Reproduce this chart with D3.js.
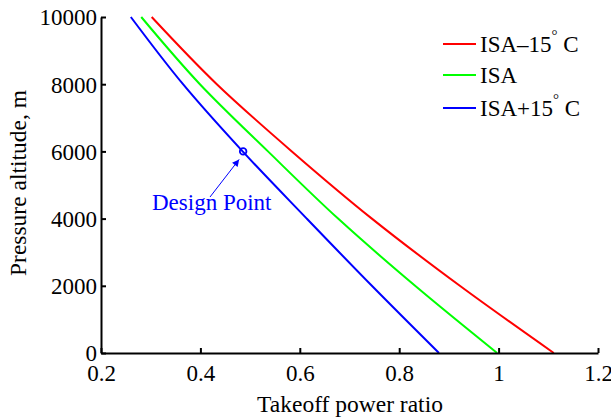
<!DOCTYPE html>
<html>
<head>
<meta charset="utf-8">
<script src="https://cdn.jsdelivr.net/npm/d3@7"></script>
<style>
  body { margin: 0; background: #fff; }
  svg text { font-family: "Liberation Serif", "DejaVu Serif", serif; }
</style>
</head>
<body>
<svg id="chart" width="611" height="419"></svg>
<script>
// Pressure altitude (m) at which each takeoff power ratio is read
const altitudes = [10000, 8000, 6000, 4000, 2000, 0];
// Takeoff power ratio for each atmosphere
const isaMinus15 = [0.302, 0.433, 0.584, 0.745, 0.922, 1.111];
const isaStd     = [0.281, 0.399, 0.536, 0.677, 0.832, 0.997];
const isaPlus15  = [0.260, 0.365, 0.485, 0.614, 0.745, 0.880];
const seriesNames = ["ISA\u201315", "ISA", "ISA+15"];
const seriesColors = ["#ff0000", "#00ff00", "#0000ff"];
const xTicks = [0.2, 0.4, 0.6, 0.8, 1, 1.2];
const yTicks = [0, 2000, 4000, 6000, 8000, 10000];
const designPoint = { ratio: 0.486, altitude: 6000, label: "Design Point" };

const FS = "23px";

const svg = d3.select("#chart");
const x = d3.scaleLinear().domain([0.2, 1.2]).range([101, 598]);
const y = d3.scaleLinear().domain([0, 10000]).range([353, 17]);

const seriesValues = [isaMinus15, isaStd, isaPlus15];

// curves
const line = d3.line()
  .x(d => x(d[0]))
  .y(d => y(d[1]))
  .curve(d3.curveMonotoneY);

seriesValues.forEach((vals, i) => {
  const pts = vals.map((v, k) => [v, altitudes[k]]);
  svg.append("path")
    .attr("d", line(pts))
    .attr("fill", "none")
    .attr("stroke", seriesColors[i])
    .attr("stroke-width", 2);
});

// axes (ticks pointing inward)
const xAxis = d3.axisBottom(x).tickValues(xTicks).tickSizeInner(-5).tickSizeOuter(0)
  .tickPadding(12).tickFormat(d => String(d));
const yAxis = d3.axisLeft(y).tickValues(yTicks).tickSizeInner(-5).tickSizeOuter(0)
  .tickPadding(4).tickFormat(d => String(d));

const gx = svg.append("g").attr("transform", `translate(0,${y(0)})`).call(xAxis);
const gy = svg.append("g").attr("transform", `translate(${x(0.2)},0)`).call(yAxis);

[gx, gy].forEach(g => {
  g.attr("font-family", null).attr("font-size", FS);
  g.select(".domain").attr("stroke", "#000").attr("stroke-width", 2);
  g.selectAll(".tick line").attr("stroke", "#000").attr("stroke-width", 2);
  g.selectAll(".tick text").attr("fill", "#000");
});
gx.selectAll(".tick text").attr("dy", "0.71em");
gy.selectAll(".tick text").attr("dy", "0.34em");

// axis titles
svg.append("text")
  .attr("x", 350).attr("y", 412)
  .attr("text-anchor", "middle")
  .attr("font-size", "23.5px")
  .text("Takeoff power ratio");

svg.append("text")
  .attr("transform", "translate(26,183) rotate(-90)")
  .attr("text-anchor", "middle")
  .attr("font-size", "23.5px")
  .text("Pressure altitude, m");

// legend
const legendY = [44, 75, 108];
seriesNames.forEach((name, i) => {
  svg.append("line")
    .attr("x1", 443).attr("x2", 476)
    .attr("y1", legendY[i]).attr("y2", legendY[i])
    .attr("stroke", seriesColors[i]).attr("stroke-width", 2);
  const t = svg.append("text")
    .attr("x", 480).attr("y", legendY[i] + 8)
    .attr("font-size", FS)
    .text(name);
  if (i !== 1) {
    t.append("tspan").attr("dy", -12).attr("font-size", "15px").text("\u00b0");
    t.append("tspan").attr("dy", 12).text(" C");
  }
});

// design point marker, arrow and label
const dpx = x(designPoint.ratio), dpy = y(designPoint.altitude);
svg.append("circle")
  .attr("cx", dpx).attr("cy", dpy).attr("r", 3.3)
  .attr("fill", "none").attr("stroke", "#0000ff").attr("stroke-width", 1.8);

svg.append("defs").append("marker")
  .attr("id", "arrowhead")
  .attr("viewBox", "0 0 10 10")
  .attr("refX", 10).attr("refY", 5)
  .attr("markerWidth", 10).attr("markerHeight", 7)
  .attr("markerUnits", "userSpaceOnUse")
  .attr("orient", "auto")
  .append("path").attr("d", "M0,0 L10,5 L0,10 Z").attr("fill", "#0000ff");

svg.append("line")
  .attr("x1", 210).attr("y1", 197)
  .attr("x2", dpx - 4).attr("y2", dpy + 8)
  .attr("stroke", "#0000ff").attr("stroke-width", 1)
  .attr("marker-end", "url(#arrowhead)");

svg.append("text")
  .attr("x", 152).attr("y", 210)
  .attr("fill", "#0000ff")
  .attr("font-size", FS)
  .text(designPoint.label);
</script>
</body>
</html>
